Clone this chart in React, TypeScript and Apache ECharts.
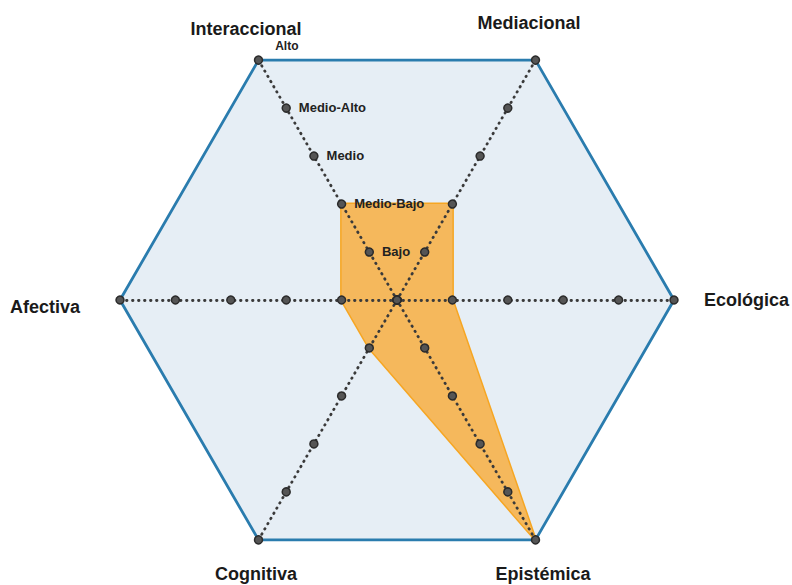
import React, { useEffect, useRef } from "react";
import * as echarts from "echarts";

// Indicators in ECharts order (starting at 120°, counter-clockwise)
const INDICATORS = ["Interaccional", "Afectiva", "Cognitiva", "Epistémica", "Ecológica", "Mediacional"];
const MAX_LEVEL = 5;
const LEVELS = [0, 1, 2, 3, 4, 5];
const LEVEL_LABELS = ["", "Bajo", "Medio-Bajo", "Medio", "Medio-Alto", "Alto"];
const PROFILE = [2, 1, 1, 5, 1, 2];

const CX = 397;
const CY = 300;
const R = 277;

export default function App() {
  const ref = useRef<HTMLDivElement>(null);
  useEffect(() => {
    if (!ref.current) return;
    const chart = echarts.init(ref.current, null, { renderer: "svg" });
    const font = "'Liberation Sans', Arial, sans-serif";
    const nameStyle = (text: string, x: number, y: number, align: string) => ({
      type: "text",
      x,
      y,
      z: 10,
      style: {
        text,
        fill: "#1a1a1a",
        font: `bold 18px ${font}`,
        textAlign: align,
        textVerticalAlign: "middle",
      },
    });
    const lvlText = { fontWeight: "bold", fontSize: 13, fontFamily: font, color: "#222" };
    const frameValues = INDICATORS.map(() => MAX_LEVEL);
    chart.setOption({
      animation: false,
      backgroundColor: "#ffffff",
      radar: {
        center: [CX, CY],
        radius: R,
        startAngle: 120,
        shape: "polygon",
        splitNumber: MAX_LEVEL,
        z: 2,
        indicator: INDICATORS.map((name, i) =>
          i === 0
            ? {
                name,
                min: 0,
                max: MAX_LEVEL,
                axisLabel: {
                  show: true,
                  margin: -10,
                  align: "left",
                  verticalAlign: "middle",
                  formatter: (v: number) => {
                    const k = Math.round(v);
                    const t = LEVEL_LABELS[k] || "";
                    if (!t) return "";
                    return k === MAX_LEVEL ? `{a|${t}}` : `{n|${t}}`;
                  },
                  rich: {
                    n: { ...lvlText, padding: [8, 0, 0, 4] },
                    a: { ...lvlText, fontSize: 12, padding: [0, 0, 18, 8] },
                  },
                },
              }
            : { name, min: 0, max: MAX_LEVEL }
        ),
        axisName: { show: false },
        axisLine: { lineStyle: { color: "#3a3a3a", type: [0.5, 5.5], width: 2.8, cap: "round" } },
        axisTick: { show: false },
        axisLabel: { show: false },
        splitLine: { show: false },
        splitArea: { show: false },
      },
      series: [
        {
          name: "fondo",
          type: "radar",
          z: 1,
          symbol: "none",
          lineStyle: { width: 0, opacity: 0 },
          areaStyle: { color: "#e6eef5", opacity: 1 },
          data: [{ value: frameValues }],
        },
        {
          name: "perfil",
          type: "radar",
          z: 1,
          symbol: "none",
          lineStyle: { color: "#f6a623", width: 3 },
          areaStyle: { color: "#f5b85c", opacity: 1 },
          data: [{ value: PROFILE }],
        },
        {
          name: "marco",
          type: "radar",
          z: 1,
          symbol: "none",
          lineStyle: { color: "#2a7cae", width: 2.8 },
          data: [{ value: frameValues }],
        },
        {
          name: "niveles",
          type: "radar",
          z: 3,
          symbol: "circle",
          symbolSize: 8,
          itemStyle: { color: "#555", borderColor: "#2b2b2b", borderWidth: 1.5 },
          lineStyle: { width: 0, opacity: 0 },
          data: LEVELS.map((l) => ({ value: INDICATORS.map(() => l) })),
        },
      ],
      graphic: [
        nameStyle("Interaccional", 246, 29, "center"),
        nameStyle("Mediacional", 529, 23, "center"),
        nameStyle("Ecológica", 704, 300, "left"),
        nameStyle("Afectiva", 80, 307, "right"),
        nameStyle("Cognitiva", 256, 574, "center"),
        nameStyle("Epistémica", 543, 574, "center"),
      ],
    });
    return () => chart.dispose();
  }, []);
  return <div ref={ref} style={{ position: "absolute", left: 0, top: 0, width: 792, height: 585 }} />;
}
